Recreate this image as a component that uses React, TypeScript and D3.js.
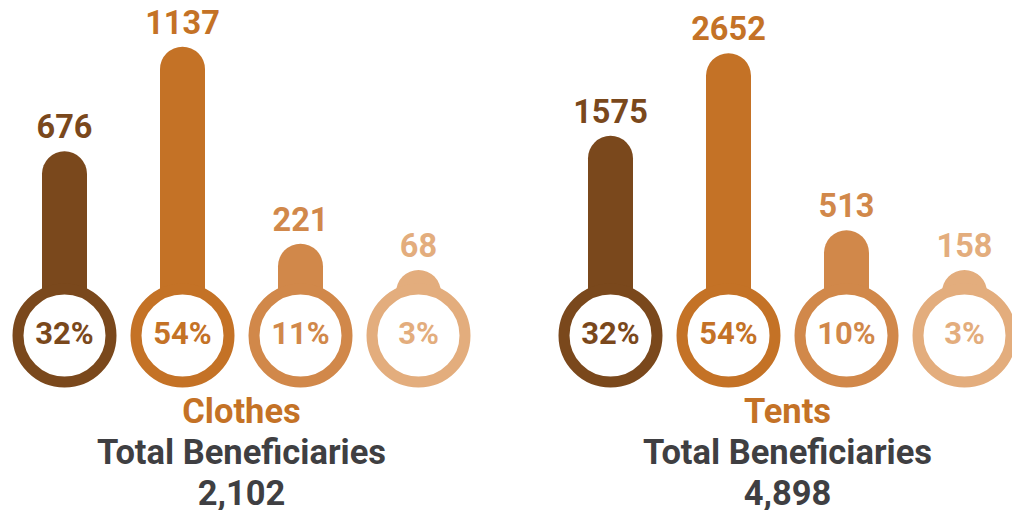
import React from 'react';
import * as d3 from 'd3';

const colors = ['#7A481C', '#C47226', '#D1884A', '#E3AD7D'];
const titleColor = '#C47226';
const textColor = '#3F3F42';

const clothesValues = [676, 1137, 221, 68];
const tentsValues = [1575, 2652, 513, 158];
const panelTitles = ['Clothes', 'Tents'];
const subtitle = 'Total Beneficiaries';

type Panel = {
  title: string;
  values: number[];
  x0: number;
  x1: number;
  exponent: number;
  yZero: number;
  yMax: number;
};

const panels: Panel[] = [
  { title: panelTitles[0], values: clothesValues, x0: 64.5, x1: 418.5, exponent: 1.15, yZero: 279.1, yMax: 46.7 },
  { title: panelTitles[1], values: tentsValues, x0: 610.5, x1: 964.5, exponent: 0.8, yZero: 295.3, yMax: 53.3 },
];

const CY = 335.5;
const RING_R = 46.5;
const RING_W = 11;
const BAR_W = 45;
const FONT = 'Roboto, "Noto Sans", sans-serif';

function PanelView({ p }: { p: Panel }) {
  const idx = p.values.map((_, i) => i);
  const x = d3.scalePoint<number>().domain(idx).range([p.x0, p.x1]);
  const max = d3.max(p.values) as number;
  const y = d3.scalePow().exponent(p.exponent).domain([0, max]).range([p.yZero, p.yMax]);
  const total = d3.sum(p.values);
  const pct = p.values.map((v) => Math.round((v / total) * 100) + '%');
  const fmt = d3.format(',');
  const cx = (p.x0 + p.x1) / 2;
  const r = BAR_W / 2;
  return (
    <g>
      {p.values.map((v, i) => {
        const xc = x(i) as number;
        const top = y(v);
        const path = d3.path();
        path.moveTo(xc - r, CY);
        path.lineTo(xc - r, top + r);
        path.arc(xc, top + r, r, Math.PI, 0, false);
        path.lineTo(xc + r, CY);
        path.closePath();
        return (
          <g key={i}>
            <path d={path.toString()} fill={colors[i]} />
            <circle cx={xc} cy={CY} r={RING_R} fill="#fff" stroke={colors[i]} strokeWidth={RING_W} />
            <text x={xc} y={top - 13} textAnchor="middle" fontFamily={FONT} fontWeight={700} fontSize={32.5} fill={colors[i]}>
              {v}
            </text>
            <text x={xc} y={CY + 8} textAnchor="middle" fontFamily={FONT} fontWeight={700} fontSize={31} fill={colors[i]}>
              {pct[i]}
            </text>
          </g>
        );
      })}
      <text x={cx} y={422.5} textAnchor="middle" fontFamily={FONT} fontWeight={700} fontSize={34.5} fill={titleColor}>
        {p.title}
      </text>
      <text x={cx} y={464} textAnchor="middle" fontFamily={FONT} fontWeight={700} fontSize={34.5} fill={textColor}>
        {subtitle}
      </text>
      <text x={cx} y={504.5} textAnchor="middle" fontFamily={FONT} fontWeight={700} fontSize={34.5} fill={textColor}>
        {fmt(total)}
      </text>
    </g>
  );
}

export default function App() {
  return (
    <svg
      width={1012}
      height={510}
      style={{ position: 'absolute', left: 0, top: 0, background: '#fff' }}
    >
      {panels.map((p, i) => (
        <PanelView key={i} p={p} />
      ))}
    </svg>
  );
}
